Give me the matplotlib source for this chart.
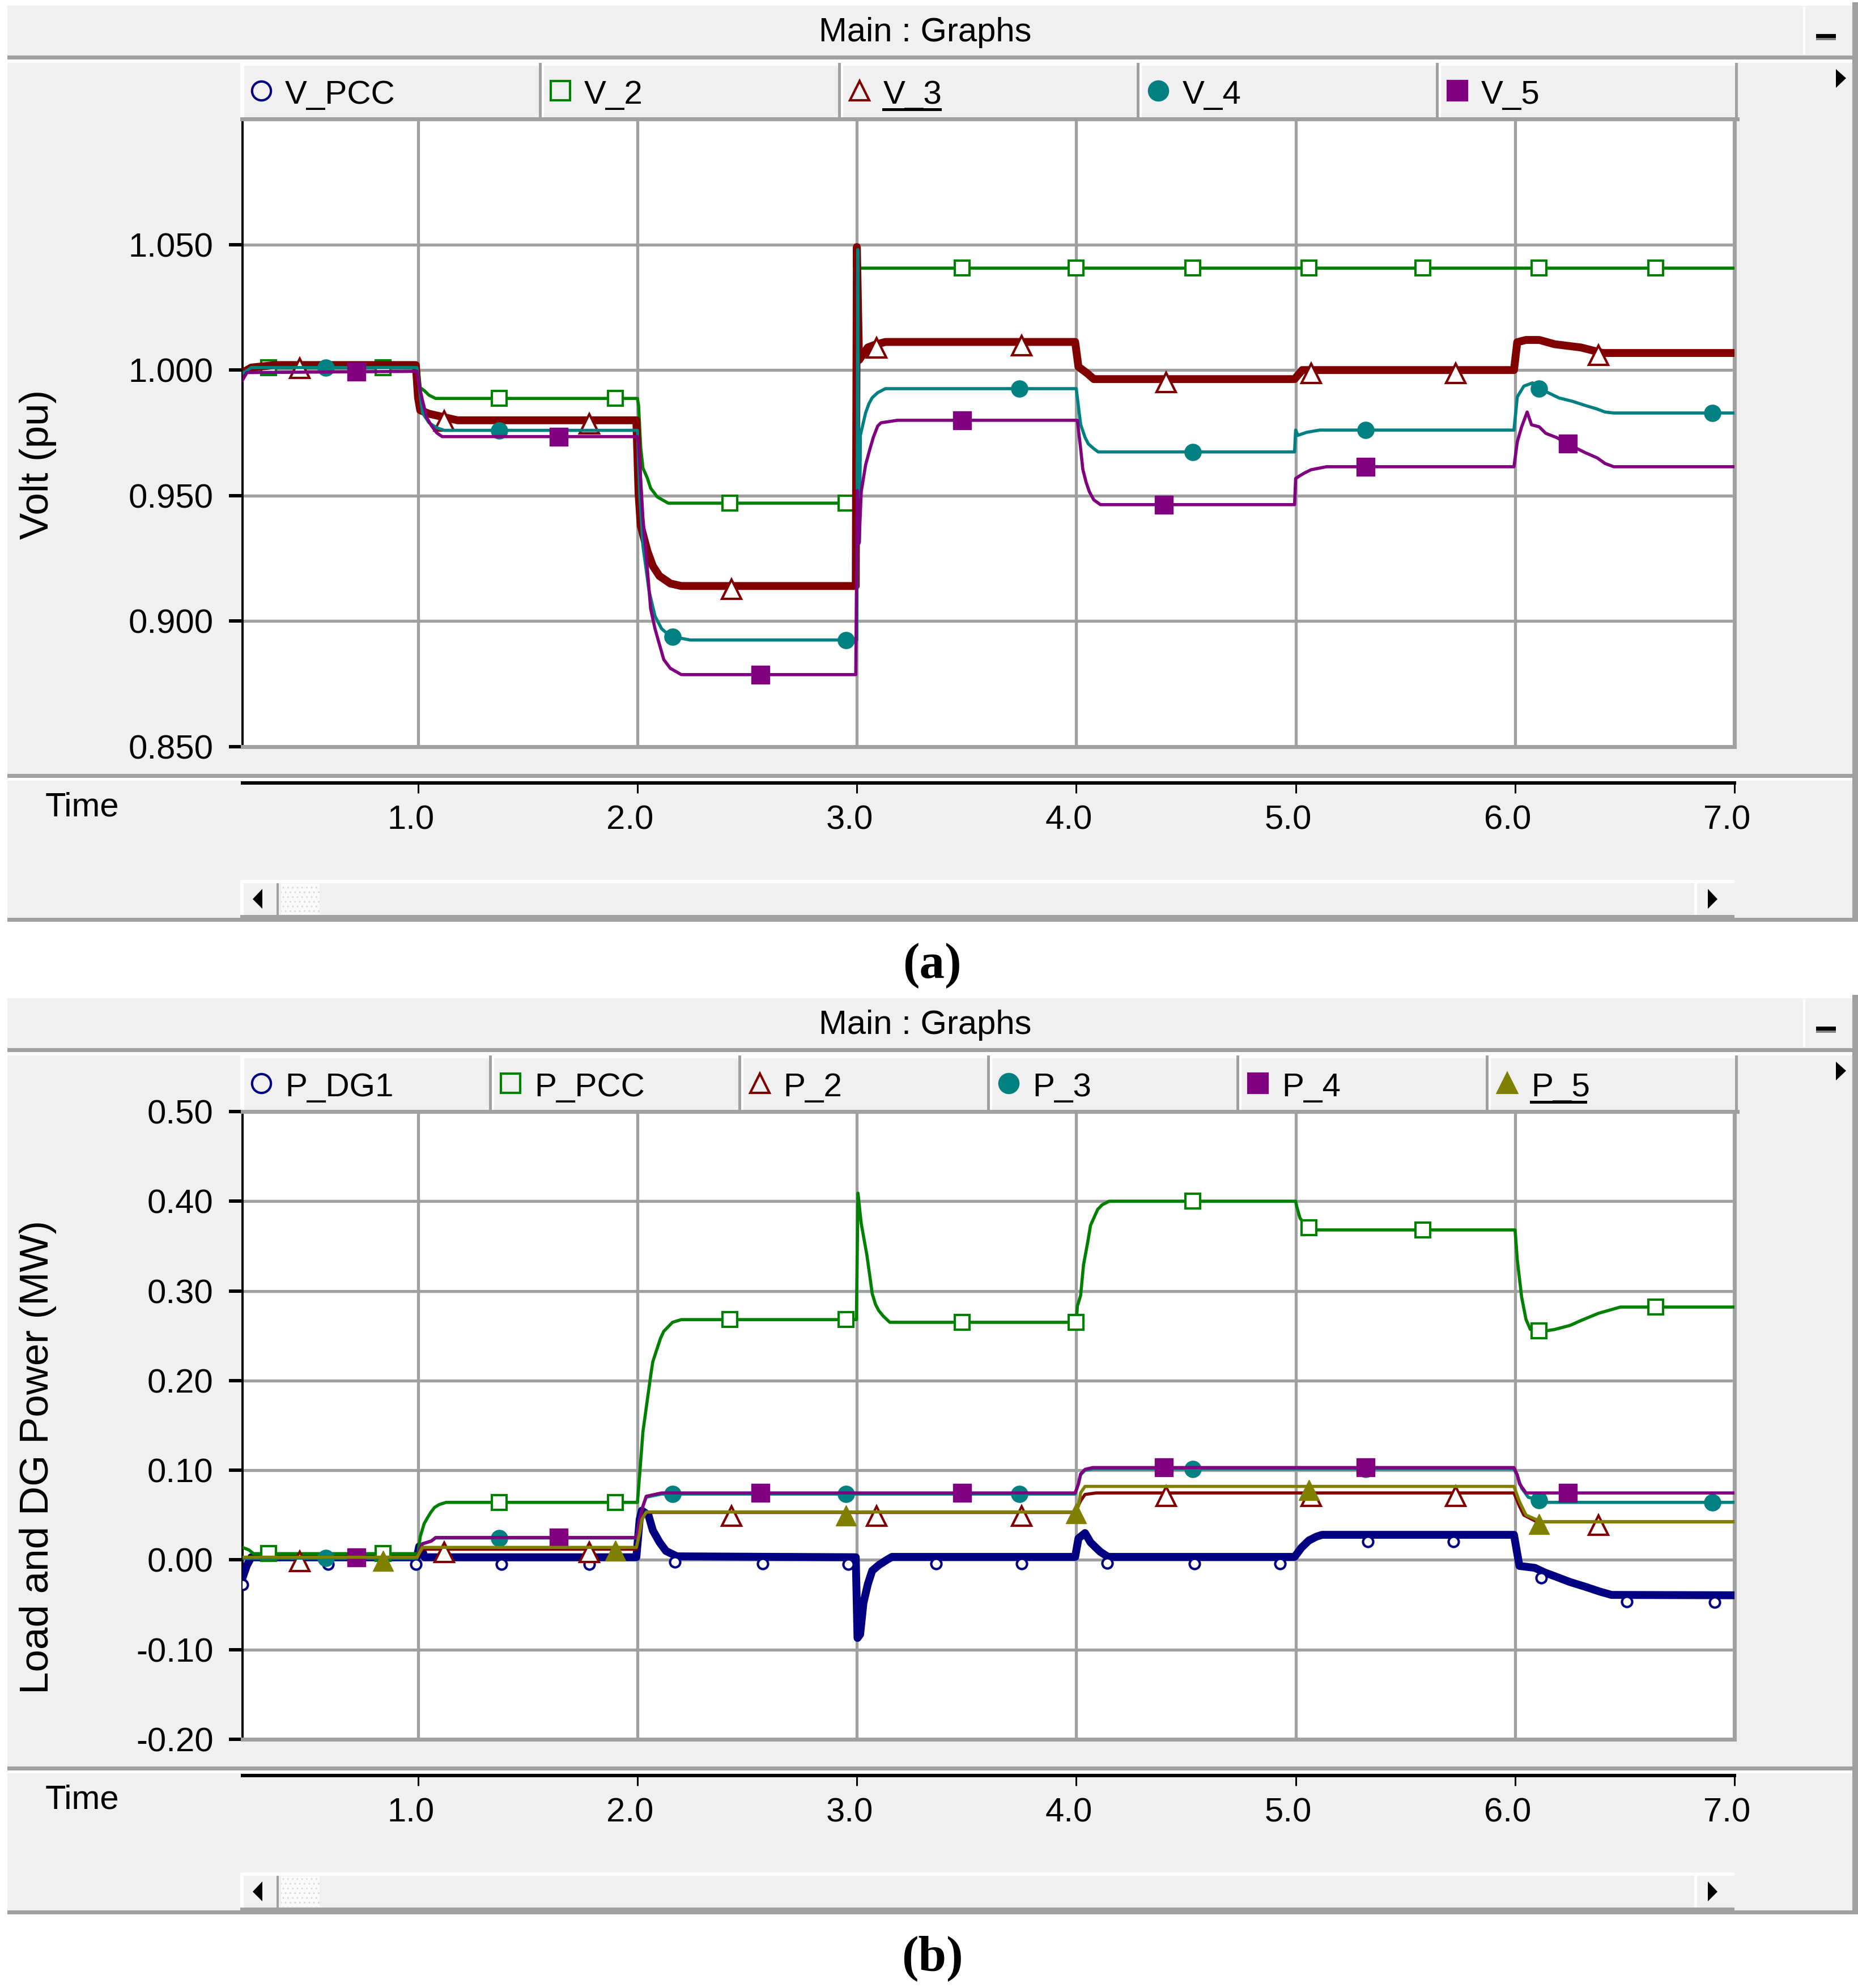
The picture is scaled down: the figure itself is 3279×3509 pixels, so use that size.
import numpy as np
import matplotlib
matplotlib.use('Agg')
import matplotlib.pyplot as plt
from matplotlib.patches import Rectangle, Polygon
from matplotlib.transforms import ScaledTranslation
from matplotlib.textpath import TextPath
from matplotlib.font_manager import FontProperties

plt.rcParams['font.family'] = ['Liberation Sans', 'DejaVu Sans']

# ---------------- (a) bus voltages (pu) ----------------
T_V2 = [0.2, 0.25, 1.0, 1.01, 1.03, 1.05, 1.08, 2.0, 2.005, 2.015, 2.025, 2.045, 2.06, 2.09, 2.14,
        3.0, 3.005, 3.012, 7.0]
V_2 = [0.998, 1.001, 1.001, 0.993, 0.9917, 0.990, 0.9887, 0.9887, 0.986, 0.969, 0.961, 0.957, 0.953, 0.9495, 0.947,
       0.947, 1.049, 1.0406, 1.0406]

T_V3 = [0.2, 0.24, 0.35, 0.99, 1.0, 1.01, 1.05, 1.1, 1.18, 1.995, 2.005, 2.015, 2.045, 2.07, 2.1, 2.15, 2.2,
        2.995, 3.0, 3.01, 3.05, 3.08, 3.13, 3.995, 4.01, 4.05, 4.08, 4.995, 5.03, 5.995, 6.01, 6.05, 6.11,
        6.18, 6.3, 6.4, 7.0]
V_3 = [0.999, 1.001, 1.002, 1.002, 0.989, 0.984, 0.9826, 0.9816, 0.980, 0.980, 0.951, 0.938, 0.928, 0.922, 0.918,
       0.915, 0.914, 0.914, 1.049, 1.004, 1.009, 1.010, 1.0112, 1.0112, 1.0013, 0.9987, 0.9964, 0.9964, 1.000,
       1.000, 1.0111, 1.012, 1.012, 1.0103, 1.009, 1.0068, 1.0068]

T_V4 = [0.2, 0.24, 0.995, 1.02, 1.05, 1.085, 1.12, 2.0, 2.01, 2.025, 2.053, 2.08, 2.11, 2.15, 2.24,
        3.0, 3.004, 3.008, 3.012, 3.016, 3.04, 3.055, 3.07, 3.095, 3.13, 4.0, 4.02, 4.04, 4.055, 4.08, 4.1,
        4.995, 5.0, 5.01, 5.05, 5.11, 5.995, 6.01, 6.04, 6.08, 6.11, 6.16, 6.2, 6.26, 6.32, 6.37, 6.41, 6.45, 7.0]
V_4 = [0.9987, 1.001, 1.001, 0.983, 0.979, 0.977, 0.976, 0.976, 0.951, 0.930, 0.912, 0.902, 0.897, 0.894, 0.8925,
       0.8925, 1.048, 0.931, 0.9315, 0.974, 0.983, 0.9866, 0.989, 0.991, 0.9926, 0.9926, 0.9783, 0.9732, 0.9706,
       0.9687, 0.9674, 0.9674, 0.9761, 0.974, 0.9752, 0.9761, 0.9761, 0.9893, 0.9936, 0.9949, 0.9927, 0.9906,
       0.9889, 0.9876, 0.9859, 0.9846, 0.9833, 0.9829, 0.9829]

T_V5 = [0.2, 0.22, 0.995, 1.0, 1.02, 1.04, 1.06, 1.085, 1.11, 2.0, 2.005, 2.025, 2.045, 2.06, 2.08, 2.1, 2.12,
        2.15, 2.2, 2.995, 3.002, 3.01, 3.02, 3.04, 3.06, 3.075, 3.095, 3.11, 3.185, 4.005, 4.02, 4.03, 4.045,
        4.06, 4.08, 4.11, 4.995, 5.0, 5.015, 5.04, 5.07, 5.14, 5.995, 6.01, 6.03, 6.055, 6.075, 6.11, 6.14,
        6.19, 6.26, 6.32, 6.375, 6.41, 6.45, 7.0]
V_5 = [0.996, 0.999, 0.9995, 0.996, 0.988, 0.981, 0.978, 0.975, 0.9735, 0.9735, 0.971, 0.941, 0.921, 0.905, 0.897,
       0.8908, 0.8847, 0.8812, 0.8787, 0.8787, 0.952, 0.931, 0.9515, 0.9623, 0.9687, 0.9732, 0.9777, 0.979,
       0.980, 0.980, 0.9687, 0.9604, 0.9553, 0.9515, 0.9483, 0.9464, 0.9464, 0.9568, 0.9577, 0.959, 0.9603,
       0.9615, 0.9615, 0.9714, 0.9774, 0.9833, 0.9782, 0.9774, 0.9748, 0.9731, 0.9697, 0.9671, 0.965, 0.9628,
       0.9615, 0.9615]

# marker times
MK_SQ_A = [0.32, 0.84, 1.37, 1.90, 2.42, 2.95, 3.48, 4.00, 4.53, 5.06, 5.58, 6.11, 6.64]
MK_TRI = [0.46, 1.12, 1.78, 2.43, 3.09, 3.75, 4.41, 5.07, 5.73, 6.38]
MK_DOT = [0.58, 1.37, 2.16, 2.95, 3.74, 4.53, 5.32, 6.11, 6.90]
MK_SQ_B = [0.72, 1.64, 2.56, 3.48, 4.40, 5.32, 6.24]
MK_RING = [0.2, 0.59, 0.99, 1.38, 1.78, 2.17, 2.57, 2.96, 3.36, 3.75, 4.14, 4.54, 4.93, 5.33, 5.72, 6.12,
           6.51, 6.91]
MK_TRI_B = [0.84, 1.90, 2.95, 4.00, 5.06, 6.11]

# ---------------- (b) load and DG power (MW) ----------------
T_DG1 = [0.2, 0.22, 0.24, 0.995, 1.005, 1.02, 1.03, 1.995, 2.01, 2.02, 2.05, 2.07, 2.1, 2.13, 2.18,
         2.995, 3.003, 3.015, 3.03, 3.05, 3.07, 3.1, 3.14, 3.16, 3.995, 4.01, 4.04, 4.065, 4.087, 4.11, 4.145,
         4.995, 5.025, 5.06, 5.095, 5.12, 5.995, 6.01, 6.02, 6.09, 6.135, 6.19, 6.25, 6.32, 6.385, 6.44, 7.0]
P_DG1 = [-0.02, -0.006, 0.003, 0.003, 0.015, 0.01, 0.003, 0.003, 0.045, 0.055, 0.05, 0.033, 0.02, 0.01, 0.004,
         0.003, -0.087, -0.083, -0.048, -0.027, -0.012, -0.0057, 0.0006, 0.0034, 0.0034, 0.024, 0.03, 0.0196,
         0.0143, 0.009, 0.0034, 0.0034, 0.0133, 0.0217, 0.026, 0.028, 0.028, 0.007, -0.0067, -0.0088, -0.014,
         -0.019, -0.0246, -0.0299, -0.0352, -0.039, -0.0394]

T_PCC = [0.2, 0.23, 0.25, 1.0, 1.01, 1.028, 1.043, 1.058, 1.075, 1.096, 1.128, 2.0, 2.01, 2.025, 2.06, 2.07,
         2.09, 2.105, 2.12, 2.14, 2.16, 2.2, 2.998, 3.005, 3.02, 3.045, 3.06, 3.07, 3.085, 3.10, 3.12, 3.15,
         4.0, 4.005, 4.02, 4.033, 4.052, 4.065, 4.085, 4.098, 4.118, 4.15, 5.0, 5.005, 5.02, 5.04, 5.07,
         6.0, 6.01, 6.03, 6.05, 6.07, 6.13, 6.18, 6.25, 6.31, 6.38, 6.48, 7.0]
P_PCC = [0.014, 0.011, 0.007, 0.007, 0.026, 0.0406, 0.047, 0.053, 0.0585, 0.0617, 0.0642, 0.0642, 0.095, 0.143,
         0.205, 0.221, 0.236, 0.247, 0.255, 0.26, 0.265, 0.268, 0.268, 0.409, 0.375, 0.341, 0.315, 0.297, 0.285,
         0.278, 0.272, 0.265, 0.265, 0.283, 0.295, 0.329, 0.354, 0.373, 0.384, 0.391, 0.396, 0.400, 0.400, 0.394,
         0.381, 0.375, 0.368, 0.368, 0.335, 0.293, 0.268, 0.257, 0.255, 0.257, 0.2615, 0.268, 0.275, 0.282, 0.282]

T_P2 = [0.2, 0.995, 1.02, 1.995, 2.01, 2.02, 2.04, 3.995, 4.02, 4.04, 4.09, 5.995, 6.02, 6.04, 6.1, 7.0]
P_2 = [0.002, 0.002, 0.012, 0.012, 0.03, 0.045, 0.053, 0.053, 0.066, 0.073, 0.0747, 0.0747, 0.06, 0.05,
       0.0425, 0.0425]

T_P3 = [0.2, 0.995, 1.01, 1.02, 1.06, 1.08, 1.995, 2.01, 2.025, 2.04, 2.11, 3.995, 4.01, 4.02, 4.04, 4.075,
        5.995, 6.01, 6.03, 6.06, 6.14, 7.0]
P_3 = [0.002, 0.002, 0.013, 0.018, 0.021, 0.0245, 0.0245, 0.045, 0.06, 0.07, 0.0735, 0.0735, 0.085, 0.095, 0.1,
       0.1015, 0.1015, 0.094, 0.08, 0.07, 0.0642, 0.0642]

T_P4 = [0.2, 0.995, 1.01, 1.02, 1.06, 1.08, 1.995, 2.01, 2.025, 2.04, 2.11, 3.995, 4.01, 4.02, 4.04, 4.075,
        5.995, 6.01, 6.02, 6.05, 7.0]
P_4 = [0.003, 0.003, 0.013, 0.018, 0.021, 0.025, 0.025, 0.045, 0.06, 0.071, 0.0747, 0.0747, 0.085, 0.096, 0.101,
       0.103, 0.103, 0.095, 0.085, 0.0747, 0.0747]

T_P5 = [0.2, 0.995, 1.02, 1.995, 2.01, 2.02, 2.04, 3.995, 4.01, 4.02, 4.04, 5.995, 6.02, 6.05, 6.12, 7.0]
P_5 = [0.003, 0.003, 0.014, 0.014, 0.03, 0.045, 0.0535, 0.0535, 0.06, 0.075, 0.082, 0.082, 0.065, 0.05,
       0.0425, 0.0425]

TIME_TICKS = [1.0, 2.0, 3.0, 4.0, 5.0, 6.0, 7.0]
VOLT_TICKS = [0.85, 0.90, 0.95, 1.00, 1.05]
VOLT_LABELS = ['0.850', '0.900', '0.950', '1.000', '1.050']
POW_TICKS = [-0.2, -0.1, 0.0, 0.1, 0.2, 0.3, 0.4, 0.5]
POW_LABELS = ['-0.20', '-0.10', '0.00', '0.10', '0.20', '0.30', '0.40', '0.50']

NAVY, GREEN, MAROON, TEAL, PURPLE, OLIVE = '#000080', '#008000', '#800000', '#008080', '#800080', '#808000'
BG = '#f0f0f0'
GRAY = '#a0a0a0'

W, H = 3280, 3509
fig = plt.figure(figsize=(W / 100, H / 100), dpi=100)
bg = fig.add_axes([0, 0, 1, 1], zorder=0)
bg.set_xlim(0, W)
bg.set_ylim(H, 0)
bg.axis('off')


def box(x0, y0, x1, y1, fc):
    bg.add_patch(Rectangle((x0, y0), x1 - x0, y1 - y0, facecolor=fc, edgecolor='none'))


def tri(pts):
    bg.add_patch(Polygon(pts, closed=True, facecolor='black', edgecolor='none'))


def px_axes(x0, y0, x1, y1, z=2):
    return fig.add_axes([x0 / W, 1 - y1 / H, (x1 - x0) / W, (y1 - y0) / H], zorder=z)


def window(oy, caption):
    box(13, oy + 10, 3269, oy + 1627, BG)
    box(3269, oy + 4, 3280, oy + 1627, GRAY)
    box(13, oy + 98, 3269, oy + 105, GRAY)
    box(13, oy + 105, 3269, oy + 111, 'white')
    # minimise button
    box(3182, oy + 12, 3186, oy + 96, 'white')
    box(3205, oy + 60, 3240, oy + 67, 'black')
    box(3205, oy + 67, 3240, oy + 71, '#808080')
    bg.text(1633, oy + 73, 'Main : Graphs', ha='center', va='baseline', fontsize=43)
    tri([(3240, oy + 122), (3258, oy + 138), (3240, oy + 155)])
    # separator between plot and time axis
    box(13, oy + 1366, 3269, oy + 1373, GRAY)
    box(13, oy + 1373, 3269, oy + 1378, 'white')
    bg.text(80, oy + 1440, 'Time', fontsize=43, va='baseline')
    # scroll bar
    box(424, oy + 1553, 3061, oy + 1559, 'white')
    box(424, oy + 1553, 430, oy + 1615, 'white')
    box(488, oy + 1559, 492, oy + 1615, GRAY)
    bg.add_patch(Rectangle((496, oy + 1560), 68, 54, facecolor='#fafafa', edgecolor='#d8d8d8',
                           hatch='..', lw=0))
    box(2990, oy + 1559, 2995, oy + 1615, 'white')
    box(424, oy + 1615, 3061, oy + 1627, GRAY)
    box(13, oy + 1620, 3269, oy + 1627, GRAY)
    tri([(463, oy + 1569), (446, oy + 1587), (463, oy + 1604)])
    tri([(3014, oy + 1569), (3031, oy + 1587), (3014, oy + 1604)])
    bg.text(1645, oy + 1705, caption, ha='center', va='center', fontsize=64, fontweight='bold',
            family=['Liberation Serif', 'DejaVu Serif'])


def legend(oy, series, underline):
    n = len(series)
    cw = (3067 - 428) / n
    box(424, oy + 111, 3067, oy + 116, 'white')
    box(424, oy + 111, 431, oy + 207, 'white')
    fp = FontProperties(family='Liberation Sans')
    for i, s in enumerate(series):
        name, color, marker, filled = s[0], s[4], s[6], s[7]
        x0 = 428 + i * cw
        x1 = x0 + cw
        box(x1 - 5, oy + 111, x1, oy + 207, GRAY)
        if i > 0:
            box(x0, oy + 116, x0 + 4, oy + 207, 'white')
        bg.plot([x0 + 33], [oy + 160], ls='none', marker=marker, ms=25 if marker != 'o' else 24,
                mfc=color if filled else 'none', mec=color, mew=3)
        bg.text(x0 + 75, oy + 183, name, fontsize=42, va='baseline')
        if name in underline:
            w = TextPath((0, 0), name, size=42 * 100 / 72, prop=fp).get_extents().width
            box(x0 + 73, oy + 191, x0 + 77 + w, oy + 196, 'black')
    box(424, oy + 207, 3070, oy + 214, GRAY)


def plot_panel(oy, series, ylim, ticks, labels, ylabel):
    ax = px_axes(428, oy + 210, 3061, oy + 1318)
    ax.set_xlim(0.2, 7.0)
    ax.set_ylim(*ylim)
    ax.set_xticks(TIME_TICKS)
    ax.set_yticks(ticks)
    ax.set_yticklabels(labels)
    ax.grid(True, color=GRAY, lw=3.8)
    ax.set_axisbelow(True)
    ax.tick_params(axis='x', length=0, labelbottom=False)
    ax.tick_params(axis='y', direction='out', length=17, width=4.3, pad=20, labelsize=43, color='black')
    ax.spines['left'].set_color('black')
    ax.spines['left'].set_linewidth(2.9)
    for side in ['top', 'right', 'bottom']:
        ax.spines[side].set_color(GRAY)
        ax.spines[side].set_linewidth(5)
    for i, s in enumerate(series):
        name, t, v, mk, color, marker, lw, filled, ms, off = s
        if t is None:
            continue
        ax.plot(t, v, color=color, lw=lw, zorder=3 + i)
        tr = ax.transData + ScaledTranslation(0, -off / 100, fig.dpi_scale_trans)
        ax.plot(mk, np.interp(mk, t, v), ls='none', marker=marker, ms=ms, transform=tr,
                mfc=color if filled else 'white', mec=color, mew=3 if not filled else 1, zorder=3 + i)
    bg.text(67, oy + 820, ylabel, rotation=90, ha='center', va='center', fontsize=51)

    # time axis strip
    tax = px_axes(428, oy + 1382, 3061, oy + 1402)
    tax.set_xlim(0.2, 7.0)
    tax.set_ylim(0, 1)
    tax.patch.set_visible(False)
    for side in ['left', 'right', 'bottom']:
        tax.spines[side].set_visible(False)
    tax.spines['top'].set_linewidth(4.3)
    tax.set_yticks([])
    tax.set_xticks(TIME_TICKS)
    tax.tick_params(axis='x', top=True, bottom=False, labelbottom=False, direction='in',
                    length=13, width=2.2)
    lab_tr = tax.get_xaxis_transform() + ScaledTranslation(-0.13, -0.61, fig.dpi_scale_trans)
    for tt in TIME_TICKS:
        tax.text(tt, 0, f'{tt:.1f}', transform=lab_tr, ha='center', va='baseline', fontsize=43)


# (name, t, values, marker times, colour, marker, lw, filled, ms, marker offset px)
top_series = [
    ('V_PCC', None, None, None, NAVY, 'o', 3, False, 13, 0),
    ('V_2', T_V2, V_2, MK_SQ_A, GREEN, 's', 4, False, 19, 0),
    ('V_3', T_V3, V_3, MK_TRI, MAROON, '^', 10, False, 24, 6),
    ('V_4', T_V4, V_4, MK_DOT, TEAL, 'o', 4, True, 21, 0),
    ('V_5', T_V5, V_5, MK_SQ_B, PURPLE, 's', 4, True, 23, 0),
]
bot_series = [
    ('P_DG1', T_DG1, P_DG1, MK_RING, NAVY, 'o', 10, False, 13, 12),
    ('P_PCC', T_PCC, P_PCC, MK_SQ_A, GREEN, 's', 4, False, 19, 0),
    ('P_2', T_P2, P_2, MK_TRI, MAROON, '^', 4, False, 24, 6),
    ('P_3', T_P3, P_3, MK_DOT, TEAL, 'o', 4, True, 21, 0),
    ('P_4', T_P4, P_4, MK_SQ_B, PURPLE, 's', 4, True, 23, 0),
    ('P_5', T_P5, P_5, MK_TRI_B, OLIVE, '^', 4, True, 26, 6),
]


def legend_entries(series):
    return [(s[0], None, None, None, s[4], None, s[5], s[7]) for s in series]


for oy, series, ylim, ticks, labels, ylabel, cap, ul in [
        (0, top_series, (0.85, 1.10), VOLT_TICKS, VOLT_LABELS, 'Volt (pu)', '(a)', ['V_3']),
        (1752, bot_series, (-0.2, 0.5), POW_TICKS, POW_LABELS, 'Load and DG Power (MW)', '(b)', ['P_5'])]:
    window(oy, cap)
    legend(oy, legend_entries(series), ul)
    plot_panel(oy, series, ylim, ticks, labels, ylabel)

fig.savefig('out.png', dpi=100, facecolor='white')
